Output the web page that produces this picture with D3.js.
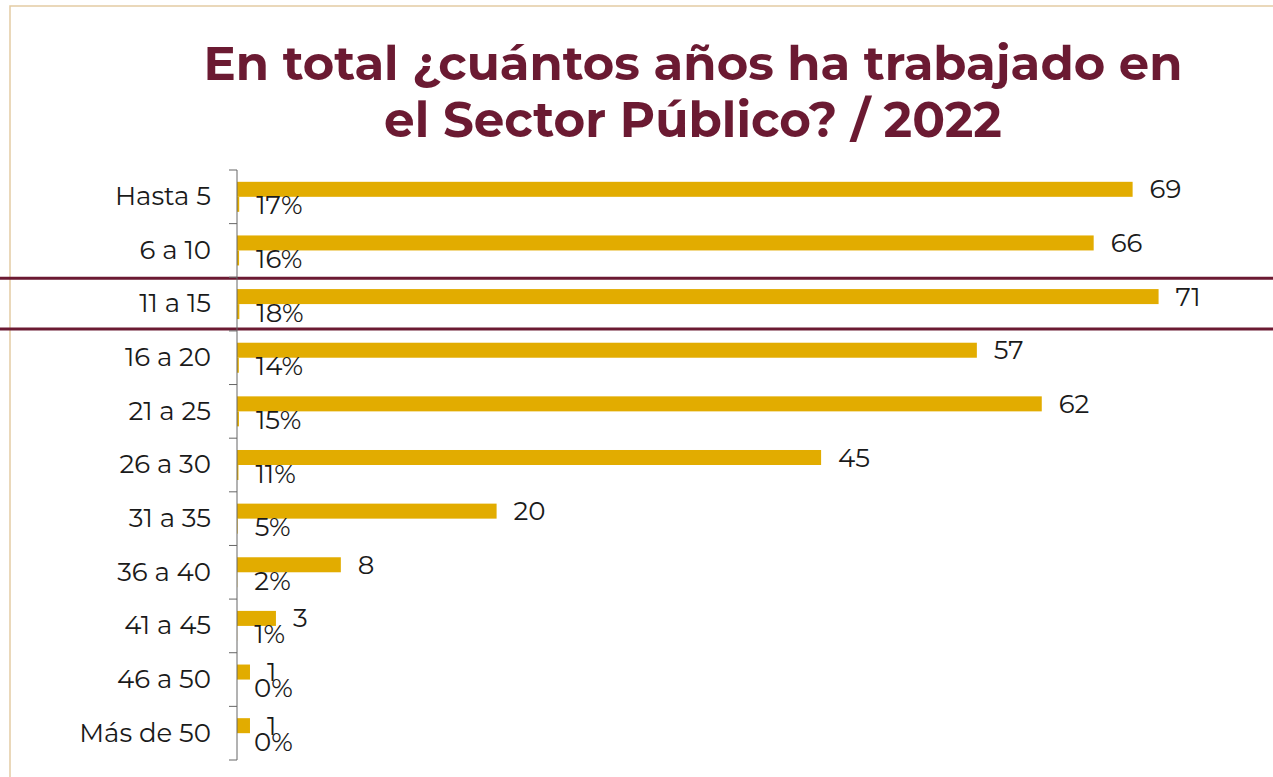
<!DOCTYPE html>
<html>
<head>
<meta charset="utf-8">
<style>
  body { margin: 0; background: #fff; }
  svg { display: block; }
</style>
</head>
<body>
<script src="https://cdn.jsdelivr.net/npm/d3@7"></script>
<script>
// datos
var categorias = ["Hasta 5", "6 a 10", "11 a 15", "16 a 20", "21 a 25", "26 a 30",
                  "31 a 35", "36 a 40", "41 a 45", "46 a 50", "Más de 50"];
var conteos = [69, 66, 71, 57, 62, 45, 20, 8, 3, 1, 1];
var porcentajes = [17, 16, 18, 14, 15, 11, 5, 2, 1, 0, 0];
var titulo = ["En total ¿cuántos años ha trabajado en", "el Sector Público? / 2022"];

var width = 1273, height = 777;
var granate = "#6B1A32", oro = "#E2AC00";
var fuente = "Montserrat, 'Open Sans', 'Noto Sans', sans-serif";
var tam = 26;

var svg = d3.select("body").append("svg")
    .attr("width", width)
    .attr("height", height);

// marco
svg.append("rect")
    .attr("x", 10).attr("y", 6)
    .attr("width", width).attr("height", height)
    .attr("fill", "none")
    .attr("stroke", "#e3cba4")
    .attr("stroke-width", 1.5);

// titulo, ajustado al ancho
var anchos = [979, 618];
svg.selectAll("text.titulo")
    .data(titulo)
    .enter().append("text")
    .attr("class", "titulo")
    .attr("x", 693)
    .attr("y", function(d, i) { return 80 + i * 57; })
    .attr("text-anchor", "middle")
    .attr("fill", granate)
    .attr("font-family", fuente)
    .attr("font-weight", "bold")
    .attr("font-size", 44)
    .text(function(d) { return d; })
    .each(function(d, i) {
        var w = this.getComputedTextLength();
        d3.select(this).attr("font-size", 44 * anchos[i] / w);
    });

var x = d3.scaleLinear().domain([0, 80]).range([237, 237 + 12.98 * 80]);
var y = d3.scaleBand().domain(categorias).range([170, 760]);
var sub = d3.scaleBand().domain(["n", "pct"]).range([0, y.step()]).paddingOuter(0.787);

var datos = categorias.map(function(c, i) {
    return { cat: c, n: conteos[i], pct: porcentajes[i] };
});

// lineas horizontales granate resaltando 11 a 15
svg.selectAll("line.resalte")
    .data([y("11 a 15") + 1, y("11 a 15") + y.step() - 2])
    .enter().append("line")
    .attr("x1", 0).attr("x2", width)
    .attr("y1", function(d) { return d; })
    .attr("y2", function(d) { return d; })
    .attr("stroke", granate)
    .attr("stroke-width", 3);

// barras
var g = svg.selectAll("g.fila")
    .data(datos)
    .enter().append("g")
    .attr("class", "fila")
    .attr("transform", function(d) { return "translate(0," + y(d.cat) + ")"; });

g.append("rect")
    .attr("x", x(0))
    .attr("y", sub("n"))
    .attr("width", function(d) { return x(d.n) - x(0); })
    .attr("height", sub.bandwidth())
    .attr("fill", oro);

g.append("rect")
    .attr("x", x(0))
    .attr("y", sub("pct"))
    .attr("width", function(d) { return x(d.pct / 100) - x(0); })
    .attr("height", sub.bandwidth())
    .attr("fill", oro);

g.append("text")
    .attr("x", function(d) { return x(d.n) + 17; })
    .attr("y", sub("n") + sub.bandwidth() / 2)
    .attr("dy", "0.35em")
    .attr("font-family", fuente)
    .attr("font-size", tam)
    .attr("fill", "#1a1a1a")
    .text(function(d) { return d.n; });

g.append("text")
    .attr("x", function(d) { return x(d.pct / 100) + 17; })
    .attr("y", sub("pct") + sub.bandwidth() / 2 + 1)
    .attr("dy", "0.35em")
    .attr("font-family", fuente)
    .attr("font-size", tam)
    .attr("fill", "#1a1a1a")
    .text(function(d) { return d.pct + "%"; });

// eje
var eje = svg.append("g")
    .attr("transform", "translate(" + x(0) + ",0)")
    .call(d3.axisLeft(y).tickSize(0).tickPadding(26));
eje.select(".domain").attr("stroke", "#666").attr("d", "M0,170V760");
eje.selectAll("text")
    .attr("font-family", fuente)
    .attr("font-size", tam)
    .attr("fill", "#1a1a1a");

eje.selectAll("line.borde")
    .data(d3.range(categorias.length + 1))
    .enter().append("line")
    .attr("class", "borde")
    .attr("x1", -8).attr("x2", 0)
    .attr("y1", function(i) { return 170 + i * y.step(); })
    .attr("y2", function(i) { return 170 + i * y.step(); })
    .attr("stroke", "#666");
</script>
</body>
</html>
